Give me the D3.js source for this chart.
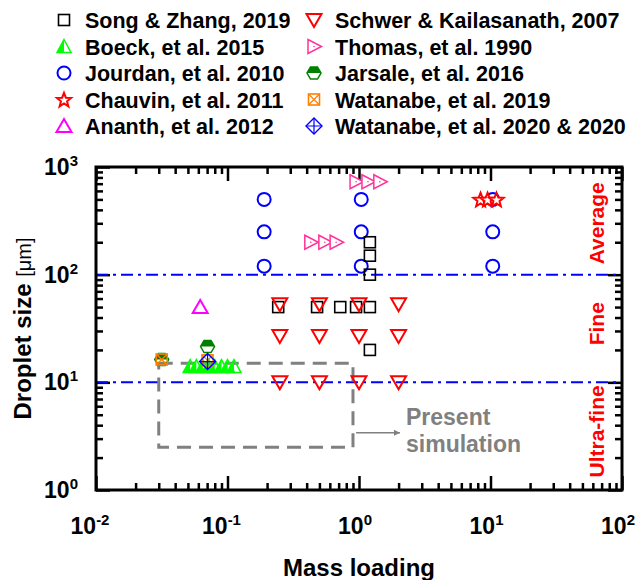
<!DOCTYPE html>
<html>
<head>
<meta charset="utf-8">
<script src="https://cdn.jsdelivr.net/npm/d3@7"></script>
<style>
  body { margin: 0; background: #fff; }
  svg { font-family: Arial, "Liberation Sans", sans-serif; }
</style>
</head>
<body>
<div id="container"></div>
<script>
// series values: [mass loading, droplet size in um]
const song = [[0.243, 50], [0.48, 50], [0.72, 50], [0.95, 50], [1.21, 50], [1.21, 20], [1.21, 100], [1.21, 150], [1.21, 200]];
const boeck = [[0.052, 14], [0.058, 14], [0.065, 14], [0.072, 14], [0.08, 14], [0.09, 14], [0.1, 14], [0.112, 14]];
const jourdan = [[0.19, 500], [0.19, 250], [0.19, 120], [1.04, 500], [1.04, 250], [1.04, 120], [10.4, 500], [10.4, 250], [10.4, 120]];
const chauvin = [[8.4, 500], [9.5, 500], [11.1, 500]];
const ananth = [[0.062, 50]];
const schwer = [[0.25, 53], [0.5, 53], [1, 53], [2, 53], [0.25, 27], [0.5, 27], [1, 27], [2, 27], [0.25, 10], [0.5, 10], [1, 10], [2, 10]];
const thomas = [[0.43, 200], [0.55, 200], [0.67, 200], [0.95, 730], [1.17, 730], [1.44, 730]];
const jarsale = [[0.0316, 16.3], [0.0705, 21.5]];
const watanabe19 = [[0.0316, 16.3], [0.0705, 16]];
const watanabe20 = [[0.0705, 15.6]];

const legendNames = ["Song & Zhang, 2019", "Boeck, et al. 2015", "Jourdan, et al. 2010", "Chauvin, et al. 2011", "Ananth, et al. 2012",
  "Schwer & Kailasanath, 2007", "Thomas, et al. 1990", "Jarsale, et al. 2016", "Watanabe, et al. 2019", "Watanabe, et al. 2020 & 2020"];
const legendKeys = ["song", "boeck", "jourdan", "chauvin", "ananth", "schwer", "thomas", "jarsale", "wat19", "wat20"];

const xTickExp = [-2, -1, 0, 1, 2];
const yTickExp = [0, 1, 2, 3];
const classLines = [100, 10];
const regionLabels = [["Average", 300], ["Fine", 35], ["Ultra-fine", 3.5]];
const presentBox = [[0.03, 2.5], [0.9, 15]];
const arrowFromTo = [[0.95, 3.4], [2.05, 3.4]];

const svg = d3.select("#container").append("svg")
  .attr("width", 641).attr("height", 580);

const xScale = d3.scaleLog().domain([0.01, 100]).range([96, 622]);
const yScale = d3.scaleLog().domain([1, 1000]).range([490, 167]);
const X0 = 96, X1 = 622, Y0 = 490, Y1 = 167;

// ticks, all pointing inward
const majorX = xTickExp.map(e => Math.pow(10, e));
const majorY = yTickExp.map(e => Math.pow(10, e));
const minorX = xScale.ticks().filter(v => !majorX.some(m => Math.abs(m - v) / m < 1e-6));
const minorY = yScale.ticks().filter(v => !majorY.some(m => Math.abs(m - v) / m < 1e-6));

function addAxis(axis, tr) {
  const g = svg.append("g").attr("transform", tr).call(axis);
  g.select(".domain").remove();
  g.selectAll("line").attr("stroke", "#000").attr("stroke-width", 2.5);
}
addAxis(d3.axisBottom(xScale).tickValues(minorX).tickSize(-7).tickFormat(""), `translate(0,${Y0})`);
addAxis(d3.axisBottom(xScale).tickValues(majorX).tickSize(-14).tickFormat(""), `translate(0,${Y0})`);
addAxis(d3.axisTop(xScale).tickValues(minorX).tickSize(-7).tickFormat(""), `translate(0,${Y1})`);
addAxis(d3.axisTop(xScale).tickValues(majorX).tickSize(-14).tickFormat(""), `translate(0,${Y1})`);
addAxis(d3.axisLeft(yScale).tickValues(minorY).tickSize(-7).tickFormat(""), `translate(${X0},0)`);
addAxis(d3.axisLeft(yScale).tickValues(majorY).tickSize(-14).tickFormat(""), `translate(${X0},0)`);
addAxis(d3.axisRight(yScale).tickValues(minorY).tickSize(-7).tickFormat(""), `translate(${X1},0)`);
addAxis(d3.axisRight(yScale).tickValues(majorY).tickSize(-14).tickFormat(""), `translate(${X1},0)`);

// tick labels
svg.selectAll(".xlab").data(xTickExp).enter().append("text")
  .attr("x", d => xScale(Math.pow(10, d)) - (d < 0 ? 6 : 4))
  .attr("y", 534)
  .attr("text-anchor", "middle")
  .attr("font-size", 23).attr("font-weight", "bold")
  .each(function(d) {
    const t = d3.select(this);
    t.append("tspan").text("10");
    t.append("tspan").attr("font-size", 15).attr("dy", -9).text(d);
  });
svg.selectAll(".ylab").data(yTickExp).enter().append("text")
  .attr("x", 78)
  .attr("y", d => yScale(Math.pow(10, d)) + 8)
  .attr("text-anchor", "end")
  .attr("font-size", 23).attr("font-weight", "bold")
  .each(function(d) {
    const t = d3.select(this);
    t.append("tspan").text("10");
    t.append("tspan").attr("font-size", 15).attr("dy", -9).text(d);
  });

svg.append("text")
  .attr("x", (X0 + X1) / 2).attr("y", 576)
  .attr("text-anchor", "middle")
  .attr("font-size", 24).attr("font-weight", "bold")
  .text("Mass loading");
const yt = svg.append("text")
  .attr("transform", `translate(31,${(Y0 + Y1) / 2}) rotate(-90)`)
  .attr("text-anchor", "middle")
  .attr("font-size", 24).attr("font-weight", "bold");
yt.append("tspan").text("Droplet size ");
yt.append("tspan").attr("font-weight", "normal").attr("font-size", 20).text("[\u03bcm]");

// class boundaries
svg.selectAll(".cls").data(classLines).enter().append("line")
  .attr("x1", X0).attr("x2", X1)
  .attr("y1", d => yScale(d)).attr("y2", d => yScale(d))
  .attr("stroke", "#0000ff").attr("stroke-width", 2)
  .attr("stroke-dasharray", "12,5,3,5");

svg.selectAll(".reg").data(regionLabels).enter().append("text")
  .attr("transform", d => `translate(604,${yScale(d[1])}) rotate(-90)`)
  .attr("text-anchor", "middle")
  .attr("font-size", 21).attr("font-weight", "bold").attr("fill", "#ff0000")
  .text(d => d[0]);

// present simulation box + arrow
svg.append("rect")
  .attr("x", xScale(presentBox[0][0])).attr("y", yScale(presentBox[1][1]))
  .attr("width", xScale(presentBox[1][0]) - xScale(presentBox[0][0]))
  .attr("height", yScale(presentBox[0][1]) - yScale(presentBox[1][1]))
  .attr("fill", "none").attr("stroke", "#808080").attr("stroke-width", 3)
  .attr("stroke-dasharray", "14,8");
svg.append("defs").append("marker")
  .attr("id", "arr").attr("viewBox", "0 0 10 10").attr("refX", 10).attr("refY", 5)
  .attr("markerWidth", 9).attr("markerHeight", 6).attr("orient", "auto")
  .attr("markerUnits", "userSpaceOnUse")
  .append("path").attr("d", "M0,0L10,5L0,10z").attr("fill", "#808080");
svg.append("line")
  .attr("x1", xScale(arrowFromTo[0][0])).attr("y1", yScale(arrowFromTo[0][1]))
  .attr("x2", xScale(arrowFromTo[1][0])).attr("y2", yScale(arrowFromTo[1][1]))
  .attr("stroke", "#808080").attr("stroke-width", 1.5)
  .attr("marker-end", "url(#arr)");
svg.append("text").attr("x", 406).attr("y", 425)
  .attr("font-size", 23).attr("font-weight", "bold").attr("fill", "#808080").text("Present");
svg.append("text").attr("x", 406).attr("y", 452)
  .attr("font-size", 23).attr("font-weight", "bold").attr("fill", "#808080").text("simulation");

// marker drawing
function drawMarker(g, key) {
  switch (key) {
    case "song":
      g.append("rect").attr("x", -5.5).attr("y", -5.5).attr("width", 11).attr("height", 11)
        .attr("fill", "none").attr("stroke", "#000").attr("stroke-width", 1.6);
      break;
    case "boeck":
      g.append("path").attr("d", "M0,-7L-7,6L0,6z").attr("fill", "#00ff00");
      g.append("path").attr("d", "M0,-7L7,6L-7,6z").attr("fill", "none").attr("stroke", "#00ff00").attr("stroke-width", 1.5);
      break;
    case "jourdan":
      g.append("circle").attr("r", 6.5).attr("fill", "none").attr("stroke", "#0000ff").attr("stroke-width", 2);
      break;
    case "chauvin": {
      const pts = d3.range(10).map(i => {
        const a = -Math.PI / 2 + i * Math.PI / 5, r = i % 2 ? 3.2 : 7.5;
        return [r * Math.cos(a), r * Math.sin(a) + 0.8];
      });
      g.append("path").attr("d", "M" + pts.join("L") + "Z")
        .attr("fill", "#fff").attr("stroke", "#ff0000").attr("stroke-width", 2);
      break;
    }
    case "ananth":
      g.append("path").attr("d", "M0,-7L7.5,6L-7.5,6Z").attr("fill", "none").attr("stroke", "#ff00ff").attr("stroke-width", 2);
      break;
    case "schwer":
      g.append("path").attr("d", "M-7.5,-6L7.5,-6L0,7Z").attr("fill", "none").attr("stroke", "#ff0000").attr("stroke-width", 2);
      break;
    case "thomas":
      g.append("path").attr("d", "M-6,-7L7.5,0L-6,7Z").attr("fill", "#fff").attr("stroke", "#ff3399").attr("stroke-width", 1.5);
      g.append("circle").attr("r", 0.8).attr("fill", "#ff3399");
      break;
    case "jarsale": {
      const hex = d3.range(6).map(i => [7 * Math.cos(i * Math.PI / 3), 7 * Math.sin(i * Math.PI / 3)]);
      g.append("path").attr("d", "M-7,0L-3.5,-6.1L3.5,-6.1L7,0Z").attr("fill", "#008000");
      g.append("path").attr("d", "M" + hex.join("L") + "Z").attr("fill", "none").attr("stroke", "#008000").attr("stroke-width", 1.5);
      break;
    }
    case "wat19":
      g.append("rect").attr("x", -5.5).attr("y", -5.5).attr("width", 11).attr("height", 11)
        .attr("fill", "none").attr("stroke", "#ff8000").attr("stroke-width", 1.6);
      g.append("path").attr("d", "M-5.5,-5.5L5.5,5.5M5.5,-5.5L-5.5,5.5").attr("stroke", "#ff8000").attr("stroke-width", 1.2);
      break;
    case "wat20":
      g.append("path").attr("d", "M0,-8L8,0L0,8L-8,0Z").attr("fill", "none").attr("stroke", "#0000ff").attr("stroke-width", 1.4);
      g.append("path").attr("d", "M0,-8L0,8M-8,0L8,0").attr("stroke", "#0000ff").attr("stroke-width", 1.2);
      break;
  }
}

function plotSeries(data, key) {
  svg.append("g").selectAll("g").data(data).enter().append("g")
    .attr("transform", d => `translate(${xScale(d[0])},${yScale(d[1])})`)
    .each(function() { drawMarker(d3.select(this), key); });
}
plotSeries(jourdan, "jourdan");
plotSeries(chauvin, "chauvin");
plotSeries(thomas, "thomas");
plotSeries(song, "song");
plotSeries(schwer, "schwer");
plotSeries(ananth, "ananth");
plotSeries(boeck, "boeck");
plotSeries(jarsale, "jarsale");
plotSeries(watanabe19, "wat19");
plotSeries(watanabe20, "wat20");

// frame
svg.append("rect").attr("x", X0).attr("y", Y1).attr("width", X1 - X0).attr("height", Y0 - Y1)
  .attr("fill", "none").attr("stroke", "#000").attr("stroke-width", 3);

// legend in two columns
const leg = svg.append("g").selectAll("g").data(legendNames).enter().append("g")
  .attr("transform", (d, i) => `translate(${i < 5 ? 64 : 314},${20 + (i % 5) * 26.5})`);
leg.each(function(d, i) { drawMarker(d3.select(this), legendKeys[i]); });
leg.append("text").attr("x", 21).attr("y", 8)
  .attr("font-size", 21.5).attr("font-weight", "bold")
  .text(d => d);
</script>
</body>
</html>
